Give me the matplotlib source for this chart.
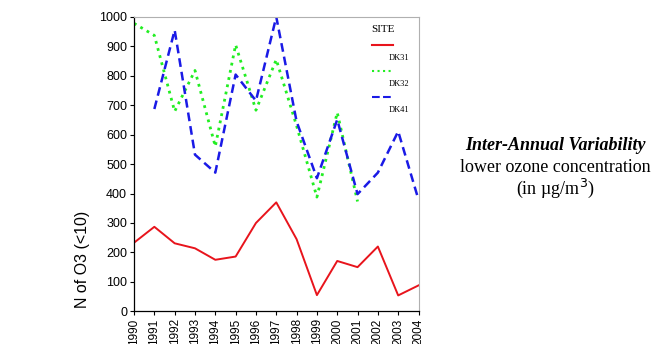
import matplotlib.pyplot as plt
from matplotlib.lines import Line2D
import numpy as np

years = np.arange(1990, 2005)

# number of O3 values below 10 per year, per site
dk31 = [233, 287, 231, 214, 175, 186, 300, 370, 245, 55, 171, 150, 220, 54, 88]
dk32Years = np.arange(1990, 2002)
dk32 = [978, 937, 679, 818, 560, 905, 683, 855, 630, 388, 675, 373]
dk41Years = np.arange(1991, 2005)
dk41 = [687, 955, 532, 471, 804, 715, 1000, 645, 452, 651, 398, 471, 611, 379]

siteNames = ["DK31", "DK32", "DK41"]
siteColors = ["#e8141c", "#22ee22", "#1a1ae6"]
siteStyles = ["-", ":", "--"]

fig = plt.figure(figsize=(6.57, 3.44), dpi=100)
ax = fig.add_axes([0.204, 0.095, 0.433, 0.856])

ax.plot(years, dk31, color=siteColors[0], linestyle=siteStyles[0], linewidth=1.4)
ax.plot(dk32Years, dk32, color=siteColors[1], linestyle=siteStyles[1], linewidth=2.0)
ax.plot(dk41Years, dk41, color=siteColors[2], linestyle=siteStyles[2], linewidth=1.8,
		dashes=(3.5, 2))

ax.set_xlim(1990, 2004)
ax.set_ylim(0, 1000)
ax.set_xticks(years)
ax.set_xticklabels([str(y) for y in years], rotation=90, fontsize=8.5, family="Liberation Sans")
ax.set_yticks(np.arange(0, 1001, 100))
ax.set_yticklabels([str(v) for v in range(0, 1001, 100)], fontsize=9, family="Liberation Sans")
ax.tick_params(length=3, width=0.8, pad=2)
ax.set_ylabel("N of O3 (<10)", fontsize=11.5, family="Liberation Sans")
ax.yaxis.set_label_coords(-0.155, 0.175)

for side in ["top", "right"]:
	ax.spines[side].set_color("#b0b0b0")
	ax.spines[side].set_linewidth(0.8)
for side in ["left", "bottom"]:
	ax.spines[side].set_linewidth(0.9)

# legend: header, then each line sample with its name underneath
ax.text(0.835, 0.956, "SITE", transform=ax.transAxes, fontsize=8, family="Liberation Serif",
		ha="left", va="center")
for i in range(3):
	yLine = 0.905 - i * 0.088
	ax.add_line(Line2D([0.836, 0.91], [yLine, yLine], transform=ax.transAxes,
		color=siteColors[i], linestyle=siteStyles[i], linewidth=1.5))
	ax.text(0.895, yLine - 0.044, siteNames[i], transform=ax.transAxes, fontsize=6,
		family="Liberation Serif", ha="left", va="center")

fig.text(0.845, 0.578, "Inter-Annual Variability", fontsize=13, family="Liberation Serif",
		weight="bold", style="italic", ha="center", va="center")
fig.text(0.845, 0.512, "lower ozone concentration", fontsize=13, family="Liberation Serif",
		ha="center", va="center")
fig.text(0.845, 0.451, "(in \u00b5g/m$^3$)", fontsize=13, family="Liberation Serif",
		ha="center", va="center")

plt.savefig("out.png", dpi=100)
plt.close()
